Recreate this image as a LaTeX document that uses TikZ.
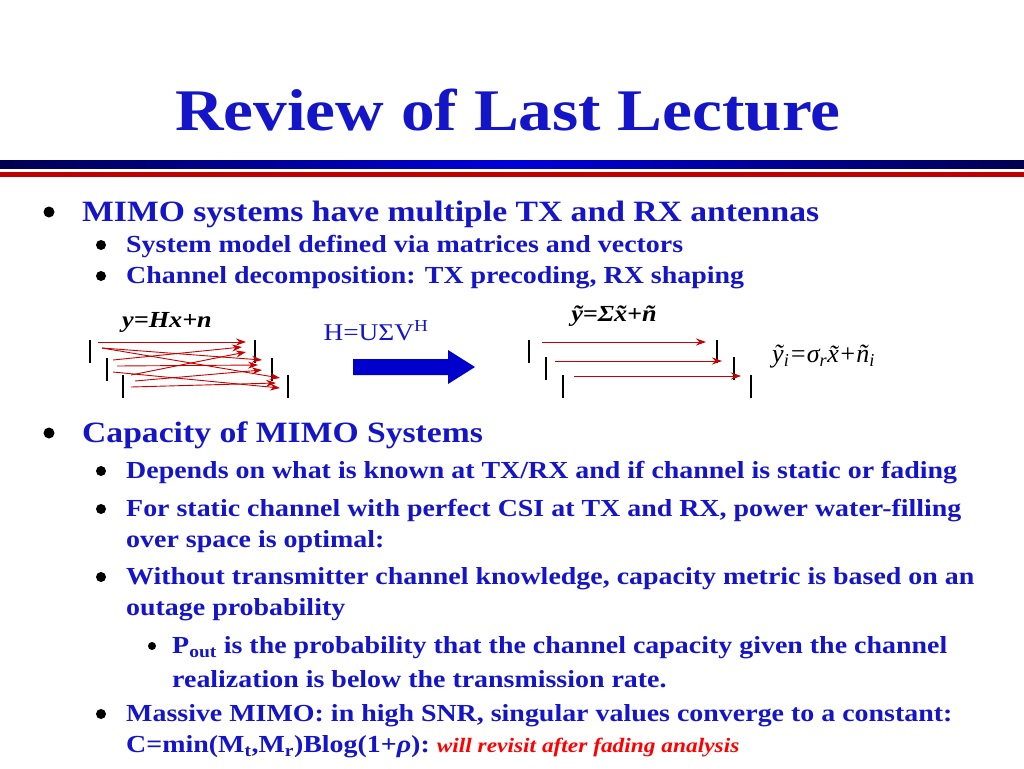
\documentclass[tikz,border=0pt]{standalone}
\usepackage{fontspec}
\setmainfont{Liberation Serif}[FakeStretch=1.14]
\newfontfamily\plainserif{Liberation Serif}
\usetikzlibrary{arrows.meta}
\definecolor{tblue}{RGB}{20,20,200}
\definecolor{navy}{RGB}{0,0,80}
\definecolor{dred}{RGB}{200,0,0}
\begin{document}
\begin{tikzpicture}[x=1pt,y=-1pt,
  lvl1/.style={anchor=west,inner sep=0,yshift=-2pt,text=tblue,font=\fontsize{29.5}{32}\selectfont\bfseries},
  lvl2/.style={anchor=west,inner sep=0,yshift=-2pt,text=tblue,font=\fontsize{24.5}{27}\selectfont\bfseries},
  ant/.style={line width=2.2pt},
  sig/.style={draw=dred,line width=0.9pt,-{Stealth[length=10pt,width=7pt]}}]
\useasboundingbox (0,0) rectangle (1024,768);
\node[inner sep=0,text=tblue,font=\fontsize{59}{64}\selectfont\bfseries] (title) at (508,110) {Review of Last Lecture};
\shade[left color=navy,right color=navy,middle color=blue!85!black] (0,160) rectangle (1024,168);
\fill[red!75!black] (0,172) rectangle (1024,177);
% bullets
\foreach \y in {212,433} \fill (49,\y) circle (5.5);
\foreach \y in {245,276,471,509,577,714} \fill (101,\y) circle (5);
\fill (152,646) circle (4);
\node[lvl1] (b1) at (82,212) {MIMO systems have multiple TX and RX antennas};
\node[lvl2] (b11) at (126,245) {System model defined via matrices and vectors};
\node[lvl2] (b12) at (126,276) {Channel decomposition: TX precoding, RX shaping};
\node[lvl1] (b2) at (82,433) {Capacity of MIMO Systems};
\node[lvl2] (b21) at (126,471) {Depends on what is known at TX/RX and if channel is static or fading};
\node[lvl2] (b22) at (126,509) {For static channel with perfect CSI at TX and RX, power water-filling};
\node[lvl2] (b22b) at (126,540) {over space is optimal:};
\node[lvl2] (b23) at (126,577) {Without transmitter channel knowledge, capacity metric is based on an};
\node[lvl2] (b23b) at (126,608) {outage probability};
\node[lvl2] (b231) at (172,646) {P\textsubscript{out} is the probability that the channel capacity given the channel};
\node[lvl2] (b231b) at (172,677) {realization is below the transmission rate.};
\node[lvl2] (b24) at (126,714) {Massive MIMO: in high SNR, singular values converge to a constant:};
\node[lvl2] (b24b) at (126,745) {C=min(M\textsubscript{t},M\textsubscript{r})Blog(1+\textit{ρ}):\ {\color{red}\fontsize{20.5}{22}\selectfont\itshape will revisit after fading analysis}};
% left diagram
\foreach \i/\x/\y in {1/90/340,2/107/358,3/123/375} {
  \draw[ant] (\x,\y) -- (\x,\y+23);
  \draw[ant] (\x+165,\y) -- (\x+165,\y+23);}
\foreach \i/\x/\y in {1/98/342,2/113/360,3/131/375} {
  \coordinate (ta\i) at (\x,\y); \coordinate (tb\i) at (\x+4,\y+6); \coordinate (tc\i) at (\x,\y+12);}
\foreach \i/\x/\y in {1/246/342,2/262/360,3/280/378} {
  \coordinate (ra\i) at (\x,\y); \coordinate (rb\i) at (\x-4,\y+5); \coordinate (rc\i) at (\x,\y+10);}
\draw[sig] (ta1) -- (ra1);
\draw[sig] (tb1) -- (ra2);
\draw[sig] (tb1) -- (ra3);
\draw[sig] (ta2) -- (rb1);
\draw[sig] (tb2) -- (rb2);
\draw[sig] (tc2) -- (rc3);
\draw[sig] (ta3) -- (rc1);
\draw[sig] (tb3) -- (rc2);
\draw[sig] (tc3) -- (rb3);
\node[inner sep=0,font=\fontsize{23}{25}\selectfont\bfseries\itshape] (eq1) at (167,322) {y=Hx+n};
\node[inner sep=0,text=tblue,font=\fontsize{24}{26}\selectfont] (eq2) at (376,331) {H=UΣV\textsuperscript{H}};
\fill[blue!80!black] (353,359) -- (448,359) -- (448,350) -- (475,367) -- (448,384) -- (448,375) -- (353,375) -- cycle;
% right diagram
\foreach \x/\y in {529/340,546/357,563/375} {
  \draw[ant] (\x,\y) -- (\x,\y+23);
  \draw[ant] (\x+188,\y) -- (\x+188,\y+23);}
\coordinate (s1) at (542,342); \coordinate (e1) at (706,342);
\coordinate (s2) at (555,361); \coordinate (e2) at (722,361);
\coordinate (s3) at (574,376); \coordinate (e3) at (741,376);
\foreach \i in {1,2,3} \draw[sig] (s\i) -- (e\i);
\node[inner sep=0,font=\fontsize{23}{25}\selectfont\bfseries\itshape] (eq3) at (614,316) {\~y=Σ\~x+\~n};
\node[inner sep=0,anchor=west,font=\plainserif\fontsize{26}{28}\selectfont\itshape] (eq4) at (772,357) {\~y\textsubscript{i}=σ\textsubscript{r}\~x+\~n\textsubscript{i}};
\end{tikzpicture}
\end{document}
